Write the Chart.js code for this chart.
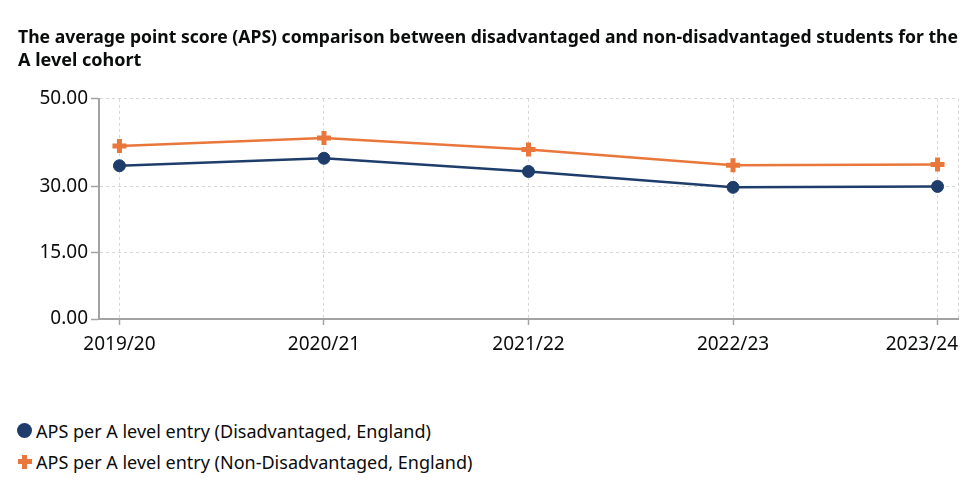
<!DOCTYPE html>
<html>
<head>
<meta charset="utf-8">
<script src="https://cdn.jsdelivr.net/npm/chart.js@4.4.1/dist/chart.umd.min.js"></script>
<style>
  html, body { margin: 0; padding: 0; background: #fff; }
  #wrap { position: relative; width: 970px; height: 490px; }
  #chartBox { position: absolute; left: 0; top: 0; width: 970px; height: 370px; }
  #legend { position: absolute; left: 17px; top: 415px; font-family: "Noto Sans", sans-serif; font-size: 18px; color: #0b0c0c; }
  .item { display: flex; align-items: center; height: 31px; }
  .mark { display: inline-block; width: 15px; height: 15px; margin-right: 4px; }
  .mark.circle { border-radius: 50%; }
</style>
</head>
<body>
<div id="wrap">
  <div id="chartBox"><canvas id="apsChart"></canvas></div>
  <div id="legend"></div>
</div>
<script>
// values
const titleLines = [
    'The average point score (APS) comparison between disadvantaged and non-disadvantaged students for the',
    'A level cohort'
];
const categories = ['2019/20', '2020/21', '2021/22', '2022/23', '2023/24'];
const disadvantaged = [34.8, 36.5, 33.5, 29.9, 30.1];
const nonDisadvantaged = [39.3, 41.1, 38.5, 34.9, 35.1];
const yTicks = [0, 15, 30, 50];

const seriesNames = [
    'APS per A level entry (Disadvantaged, England)',
    'APS per A level entry (Non-Disadvantaged, England)'
];
const blue = '#1f3d6b';
const orange = '#e9773b';
const axisGrey = '#a3a3a3';
const gridGrey = '#d6d6d6';
const font = '"Noto Sans", sans-serif';

// first and last category sit a little inside the plot edges
const xMin = -0.1;
const xMax = categories.length - 1 + 0.1;

const toPoints = arr => arr.map((v, i) => ({ x: i, y: v }));

const ctx = document.getElementById('apsChart').getContext('2d');
const chart = new Chart(ctx, {
    type: 'line',
    data: {
        datasets: [{
            label: seriesNames[0],
            data: toPoints(disadvantaged),
            borderColor: blue,
            backgroundColor: blue,
            borderWidth: 2.5,
            pointStyle: 'circle',
            pointRadius: 6,
            pointBorderWidth: 1,
            pointHoverRadius: 6
        }, {
            label: seriesNames[1],
            data: toPoints(nonDisadvantaged),
            borderColor: orange,
            backgroundColor: orange,
            borderWidth: 2.5,
            pointStyle: 'cross',
            pointRadius: 7,
            pointBorderWidth: 5,
            pointHoverRadius: 7
        }]
    },
    options: {
        responsive: true,
        maintainAspectRatio: false,
        animation: false,
        layout: { padding: { left: 18, right: 12, top: 0, bottom: 0 } },
        plugins: {
            legend: { display: false },
            tooltip: { enabled: false },
            title: {
                display: true,
                text: titleLines,
                align: 'start',
                color: '#0b0c0c',
                font: { family: font, size: 18, weight: 'bold', lineHeight: 1.3 },
                padding: { top: 26, bottom: 26 }
            }
        },
        scales: {
            x: {
                type: 'linear',
                min: xMin,
                max: xMax,
                afterBuildTicks: scale => {
                    // edge ticks carry the outer gridline; the right one holds the last label
                    const vals = [xMin].concat(categories.map((c, i) => i), [xMax]);
                    scale.ticks = vals.map(v => ({ value: v }));
                },
                afterFit: scale => { scale.height = 51; },
                grid: {
                    color: gridGrey,
                    tickLength: 6,
                    tickBorderDash: [],
                    tickColor: c => (c.tick && Number.isInteger(c.tick.value)) ? axisGrey : 'rgba(0,0,0,0)',
                    tickWidth: 1.5
                },
                border: { display: true, color: axisGrey, width: 2, dash: [3, 3] },
                ticks: {
                    autoSkip: false,
                    maxRotation: 0,
                    align: 'inner',
                    padding: 8,
                    color: '#0b0c0c',
                    font: { family: font, size: 19 },
                    callback: value => {
                        if (value === xMax) return categories[categories.length - 1];
                        if (Number.isInteger(value) && value < categories.length - 1) return categories[value];
                        return '';
                    }
                }
            },
            y: {
                min: 0,
                max: 50,
                afterBuildTicks: scale => { scale.ticks = yTicks.map(v => ({ value: v })); },
                afterFit: scale => { scale.width = 81; },
                grid: {
                    color: gridGrey,
                    tickLength: 8,
                    tickBorderDash: [],
                    tickColor: axisGrey,
                    tickWidth: 1.5
                },
                border: { display: true, color: axisGrey, width: 2, dash: [3, 3] },
                ticks: {
                    padding: 3,
                    color: '#0b0c0c',
                    font: { family: font, size: 19 },
                    callback: value => value.toFixed(2)
                }
            }
        }
    }
});

// legend stacked under the chart, built from the datasets
const legendEl = document.getElementById('legend');
chart.data.datasets.forEach(ds => {
    const row = document.createElement('div');
    row.className = 'item';
    const mark = document.createElement('span');
    mark.className = 'mark';
    if (ds.pointStyle === 'circle') {
        mark.classList.add('circle');
        mark.style.background = ds.backgroundColor;
    } else {
        const c = ds.borderColor;
        mark.style.background = `linear-gradient(${c},${c}) center/14px 5px no-repeat, linear-gradient(${c},${c}) center/5px 14px no-repeat`;
    }
    const text = document.createElement('span');
    text.textContent = ds.label;
    row.appendChild(mark);
    row.appendChild(text);
    legendEl.appendChild(row);
});
</script>
</body>
</html>
